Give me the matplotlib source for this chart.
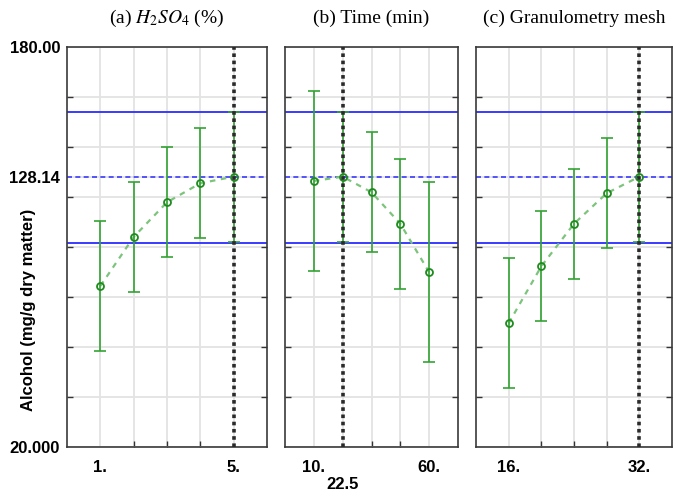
import matplotlib
matplotlib.use("Agg")
import matplotlib.pyplot as plt
from matplotlib.ticker import FixedLocator

# ---- data ----
titles = ["(a) $H_2SO_4$ (%)", "(b) Time (min)", "(c) Granulometry mesh"]

x_a = [1, 2, 3, 4, 5]
y_a = [84.4, 104.0, 117.9, 125.5, 128.14]
e_a = [26.0, 22.0, 22.0, 22.0, 26.0]

x_b = [10, 22.5, 35, 47.5, 60]
y_b = [126.4, 128.14, 121.9, 109.3, 89.9]
e_b = [36.0, 26.0, 24.0, 26.0, 36.0]

x_c = [16, 20, 24, 28, 32]
y_c = [69.5, 92.3, 109.3, 121.5, 128.14]
e_c = [26.0, 22.0, 22.0, 22.0, 26.0]

optimum_x = [5, 22.5, 32]
pred_value = 128.14
upper_limit = 154.0
lower_limit = 101.8

xlims = [(0, 6), (-2.5, 72.5), (12, 36)]
x_major = [[1, 5], [10, 22.5, 60], [16, 32]]
x_major_labels = [["1.", "5."], ["10.", "\n22.5", "60."], ["16.", "32."]]
x_minor = [[2, 3, 4], [35, 47.5], [20, 24, 28]]

y_min, y_max = 20.0, 180.0
y_major = [20.0, 128.14, 180.0]
y_major_labels = ["20.000", "128.14", "180.00"]
y_minor = [40, 60, 80, 100, 120, 140, 160]
ylabel = "Alcohol (mg/g dry matter)"

xs = [x_a, x_b, x_c]
ys = [y_a, y_b, y_c]
es = [e_a, e_b, e_c]

# ---- figure ----
W, H = 676, 491
fig = plt.figure(figsize=(W / 100, H / 100), dpi=100)
boxes = [(67, 200), (285, 173), (476, 196)]
top_px, bot_px = 47, 447

sans = ["Liberation Sans", "DejaVu Sans"]
serif_font = ["Liberation Serif", "DejaVu Serif"]
plt.rcParams["mathtext.fontset"] = "stix"

green = "#33a333"
green_light = "#7cc47c"
blue = "#3a3aff"
grid_c = "#e3e3e3"

for i in range(3):
    left, width = boxes[i]
    ax = fig.add_axes([left / W, 1 - bot_px / H, width / W, (bot_px - top_px) / H])
    ax.set_xlim(*xlims[i])
    ax.set_ylim(y_min, y_max)

    ax.xaxis.set_major_locator(FixedLocator(x_major[i]))
    ax.xaxis.set_minor_locator(FixedLocator(x_minor[i]))
    ax.set_xticklabels(x_major_labels[i], fontfamily=sans, fontweight="bold", fontsize=12)
    ax.yaxis.set_major_locator(FixedLocator(y_major))
    ax.yaxis.set_minor_locator(FixedLocator(y_minor))
    if i == 0:
        ax.set_yticklabels(y_major_labels, fontfamily=sans, fontweight="bold", fontsize=12)
    else:
        ax.set_yticklabels([])

    ax.tick_params(axis="both", which="major", length=0, pad=5)
    ax.tick_params(axis="y", which="minor", direction="in", length=4, left=True, right=True,
                   width=1.0, color="#333333")
    ax.tick_params(axis="x", which="minor", direction="in", length=4, width=1.0, color="#333333")
    ax.tick_params(axis="x", which="major", direction="in", length=0, pad=9)

    ax.grid(True, which="both", color=grid_c, linewidth=1.3, zorder=0)
    ax.set_axisbelow(True)
    for sp in ax.spines.values():
        sp.set_linewidth(1.2)
        sp.set_color("#3a3a3a")

    # limits & predicted value
    ax.axhline(upper_limit, color=blue, linewidth=1.4, zorder=2)
    ax.axhline(lower_limit, color=blue, linewidth=1.4, zorder=2)
    ax.axhline(pred_value, color=blue, linewidth=1.2, linestyle=(0, (3, 2)), zorder=2)

    # fitted curve and error bars
    ax.plot(xs[i], ys[i], color=green_light, linewidth=1.6, linestyle=(0, (2.5, 2.5)), zorder=3)
    ax.errorbar(xs[i], ys[i], yerr=es[i], fmt="none", ecolor=green, elinewidth=1.2,
                capsize=4, capthick=1.2, zorder=4)
    ax.plot(xs[i], ys[i], linestyle="none", marker="o", markersize=5, markerfacecolor="none",
            markeredgecolor="#1f8a1f", markeredgewidth=1.3, zorder=5)

    # optimum
    ax.axvline(optimum_x[i], color="#2a2a2a", linewidth=2.6, linestyle=(0, (1, 1)), zorder=6)

    ax.set_title(titles[i], fontfamily=serif_font, fontsize=14, pad=17)

fig.text(29 / W, 1 - 310 / H, ylabel, rotation=90, ha="center", va="center",
         fontfamily=sans, fontweight="bold", fontsize=12)

fig.savefig("out.png", dpi=100)
